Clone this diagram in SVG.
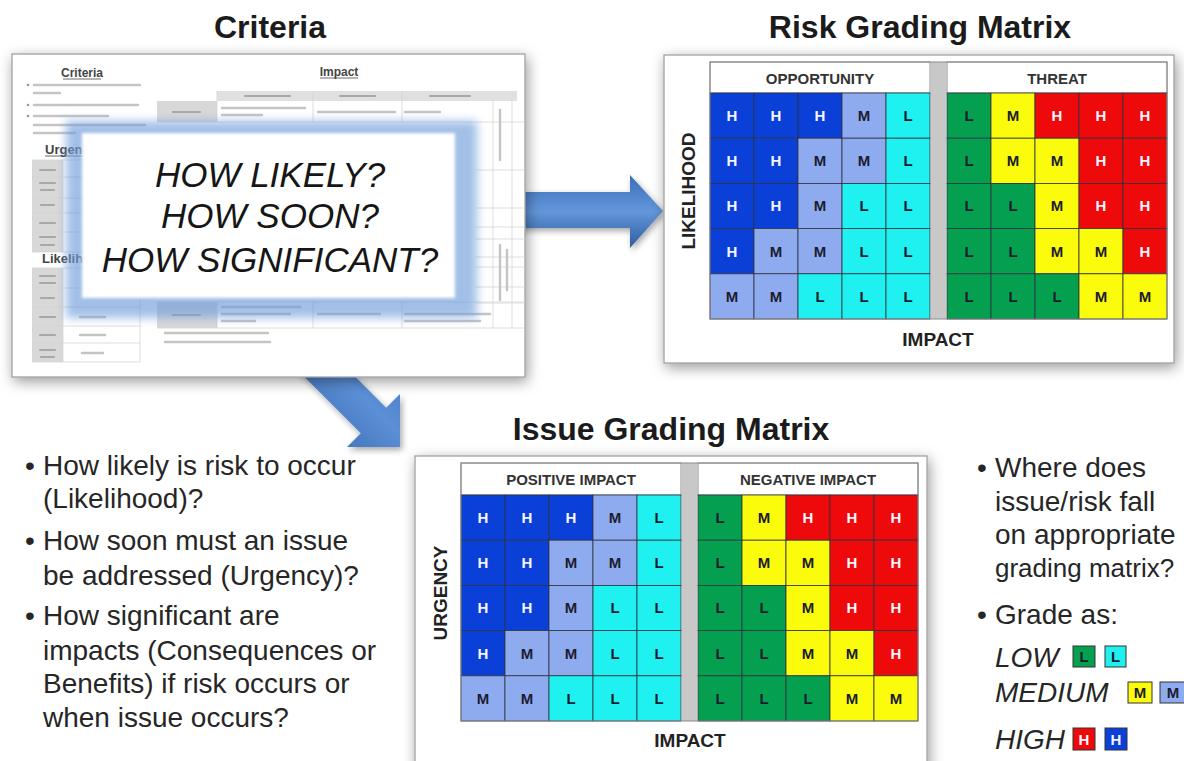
<svg xmlns="http://www.w3.org/2000/svg" width="1184" height="761" viewBox="0 0 1184 761">
<defs>
<style>
.title{font-family:"Liberation Sans",Arial,sans-serif;font-size:32px;font-weight:bold;fill:#1b1b1b;text-anchor:middle}
.body{font-family:"Liberation Sans",Arial,sans-serif;font-size:28px;fill:#262626}
.it{font-style:italic}
.q{font-family:"Liberation Sans",Arial,sans-serif;font-size:35px;font-style:italic;fill:#161616;text-anchor:middle}
.hdr{font-family:"Liberation Sans",Arial,sans-serif;font-size:15px;font-weight:bold;fill:#333;text-anchor:middle}
.ax{font-family:"Liberation Sans",Arial,sans-serif;font-size:19px;font-weight:bold;fill:#222;text-anchor:middle}
.panel{fill:#fff;stroke:#9a9a9a;stroke-width:1.2}
.c{stroke:#2d3340;stroke-width:0.8}
.H{fill:#0a40d8}.M{fill:#8fabef}.L{fill:#1ff0f0}.G{fill:#04a04f}.Y{fill:#fbfb0c}.R{fill:#ee0a0a}
.lt{font-family:"Liberation Sans",Arial,sans-serif;font-size:15px;font-weight:bold;text-anchor:middle;fill:#1c1c30}
.lw{fill:#f4f4ff}
.doc{font-family:"Liberation Sans",Arial,sans-serif;font-weight:bold;fill:#444}
.bar{stroke:#c4c4c4;stroke-width:2.4;stroke-linecap:round;fill:none}
.dk{stroke:#a8a8a8;stroke-width:2.2;stroke-linecap:round;fill:none}
.tl{stroke:#d4d4d4;stroke-width:0.8;fill:none}
.gc{fill:#d8d8d8}
</style>
<filter id="sh" x="-15%" y="-15%" width="130%" height="135%"><feDropShadow dx="2" dy="4" stdDeviation="7" flood-color="#000" flood-opacity="0.4"/></filter>
<filter id="ash" x="-20%" y="-20%" width="150%" height="150%"><feDropShadow dx="2" dy="3" stdDeviation="3" flood-color="#000" flood-opacity="0.35"/></filter>
<filter id="bl" x="-10%" y="-20%" width="120%" height="140%"><feGaussianBlur stdDeviation="5"/></filter>
<filter id="bl2" x="-5%" y="-5%" width="110%" height="110%"><feGaussianBlur stdDeviation="1.5"/></filter>
<linearGradient id="ga" x1="0" y1="0" x2="0" y2="1"><stop offset="0" stop-color="#3a6fb8"/><stop offset=".5" stop-color="#6396da"/><stop offset="1" stop-color="#2d5c9e"/></linearGradient>
<linearGradient id="gd" x1="0" y1="1" x2="1" y2="0"><stop offset="0" stop-color="#2d5c9e"/><stop offset=".55" stop-color="#5b8fd6"/><stop offset="1" stop-color="#3a6fb8"/></linearGradient>
<clipPath id="docclip"><rect x="12" y="54" width="513" height="323"/></clipPath>
</defs>
<rect width="1184" height="761" fill="#fff"/>

<text class="title" x="270" y="38">Criteria</text>
<text class="title" x="920" y="38">Risk Grading Matrix</text>
<text class="title" x="671" y="440">Issue Grading Matrix</text>

<g id="connectors">
<polygon points="518,192 630,192 630,175 663,211 630,248 630,228 518,228" fill="url(#ga)" filter="url(#ash)"/>
<polygon points="296.2,317.8 386.2,407.8 400,394 400,447 347,447 360.8,433.2 270.8,343.2" fill="url(#gd)" filter="url(#ash)"/>
</g>

<g id="criteria">
<rect class="panel" x="12" y="54" width="513" height="323" filter="url(#sh)"/>
<g clip-path="url(#docclip)">
<text class="doc" x="82" y="77" font-size="12" text-anchor="middle">Criteria</text>
<line x1="63" y1="79" x2="101" y2="79" stroke="#444" stroke-width="0.8"/>
<circle cx="28" cy="85" r="1.3" fill="#999"/><circle cx="28" cy="105" r="1.3" fill="#999"/><circle cx="28" cy="116" r="1.3" fill="#999"/>
<path class="bar" d="M34 85H140M34 93H60M34 105H138M34 116H108M34 125H145M34 133H75"/>
<text class="doc" x="45" y="154" font-size="13">Urgency</text>
<line x1="45" y1="156" x2="100" y2="156" stroke="#444" stroke-width="0.8"/>
<rect class="gc" x="32" y="160" width="31" height="92"/>
<path class="tl" d="M32 160H140V252H32M63 160V252M32 177H140M32 198H140M32 213H140M32 232H140"/>
<path class="dk" d="M40 170H55M40 183H55M41 190H54M41 205H54M40 223H55M40 237H55M41 245H54"/>
<text class="doc" x="42" y="263" font-size="13">Likelihood</text>
<rect class="gc" x="32" y="268" width="31" height="94"/>
<path class="tl" d="M32 268H140V362H32M63 268V362M32 288H140M32 307H140M32 326H140M32 343H140"/>
<path class="dk" d="M40 276H55M40 283H55M41 298H54M40 317H55M40 335H55M40 350H55M41 357H54"/>
<path class="bar" d="M80 317H105M80 335H105M82 353H103"/>
<text class="doc" x="339" y="76" font-size="12" text-anchor="middle">Impact</text>
<line x1="320" y1="78" x2="358" y2="78" stroke="#444" stroke-width="0.8"/>
<rect x="217" y="91" width="300" height="10" fill="#e0e0e0"/>
<rect class="gc" x="157" y="101" width="60" height="21"/>
<path class="tl" d="M217 91V122M313 91V122M402 91V122M157 122H525M493 100V328M512 100V328"/>
<path class="dk" d="M245 96H290M340 96H375M430 96H470M173 112H200"/>
<path class="bar" d="M222 108H305M222 115H262M318 112H395M405 112H440"/>
<path class="tl" d="M476 170H525M476 208H525M476 227H525M476 239H525M476 257H525M476 267H525M476 287H525M476 303H525"/>
<path class="bar" d="M500 110V160M500 245V300M507 250V290"/>
<rect class="gc" x="157" y="302" width="60" height="26"/>
<path class="tl" d="M157 302H525M157 328H525M217 302V328M313 302V328M402 302V328"/>
<path class="dk" d="M173 315H200"/>
<path class="bar" d="M222 307H300M222 314H290M222 321H255M318 314H380M405 314H490M405 321H480"/>
<path class="bar" d="M165 333H268M165 342H270"/>
</g>
<rect x="66" y="121" width="411" height="197" fill="#6f9ddb" opacity="0.65" filter="url(#bl)"/>
<rect x="82" y="133" width="373" height="165" fill="#fff" filter="url(#bl2)"/>
<text class="q" x="270" y="187">HOW LIKELY?</text>
<text class="q" x="270" y="228">HOW SOON?</text>
<text class="q" x="270" y="272">HOW SIGNIFICANT?</text>
</g>

<g id="risk-matrix">
<rect class="panel" x="664" y="55" width="510" height="308" filter="url(#sh)"/>
<g transform="translate(710,93)">
<rect x="221" y="-31" width="15" height="257" fill="#c8c8c8"/>
<rect x="0" y="-31" width="220" height="31" fill="#fff" stroke="#8a8a8a"/>
<rect x="237" y="-31" width="220" height="31" fill="#fff" stroke="#8a8a8a"/>
<text class="hdr" x="110" y="-9">OPPORTUNITY</text>
<text class="hdr" x="347" y="-9">THREAT</text>
<rect class="c H" x="0" y="0" width="44" height="45.2"/><rect class="c H" x="44" y="0" width="44" height="45.2"/><rect class="c H" x="88" y="0" width="44" height="45.2"/><rect class="c M" x="132" y="0" width="44" height="45.2"/><rect class="c L" x="176" y="0" width="44" height="45.2"/>
<rect class="c H" x="0" y="45.2" width="44" height="45.2"/><rect class="c H" x="44" y="45.2" width="44" height="45.2"/><rect class="c M" x="88" y="45.2" width="44" height="45.2"/><rect class="c M" x="132" y="45.2" width="44" height="45.2"/><rect class="c L" x="176" y="45.2" width="44" height="45.2"/>
<rect class="c H" x="0" y="90.4" width="44" height="45.2"/><rect class="c H" x="44" y="90.4" width="44" height="45.2"/><rect class="c M" x="88" y="90.4" width="44" height="45.2"/><rect class="c L" x="132" y="90.4" width="44" height="45.2"/><rect class="c L" x="176" y="90.4" width="44" height="45.2"/>
<rect class="c H" x="0" y="135.6" width="44" height="45.2"/><rect class="c M" x="44" y="135.6" width="44" height="45.2"/><rect class="c M" x="88" y="135.6" width="44" height="45.2"/><rect class="c L" x="132" y="135.6" width="44" height="45.2"/><rect class="c L" x="176" y="135.6" width="44" height="45.2"/>
<rect class="c M" x="0" y="180.8" width="44" height="45.2"/><rect class="c M" x="44" y="180.8" width="44" height="45.2"/><rect class="c L" x="88" y="180.8" width="44" height="45.2"/><rect class="c L" x="132" y="180.8" width="44" height="45.2"/><rect class="c L" x="176" y="180.8" width="44" height="45.2"/>
<rect class="c G" x="237" y="0" width="44" height="45.2"/><rect class="c Y" x="281" y="0" width="44" height="45.2"/><rect class="c R" x="325" y="0" width="44" height="45.2"/><rect class="c R" x="369" y="0" width="44" height="45.2"/><rect class="c R" x="413" y="0" width="44" height="45.2"/>
<rect class="c G" x="237" y="45.2" width="44" height="45.2"/><rect class="c Y" x="281" y="45.2" width="44" height="45.2"/><rect class="c Y" x="325" y="45.2" width="44" height="45.2"/><rect class="c R" x="369" y="45.2" width="44" height="45.2"/><rect class="c R" x="413" y="45.2" width="44" height="45.2"/>
<rect class="c G" x="237" y="90.4" width="44" height="45.2"/><rect class="c G" x="281" y="90.4" width="44" height="45.2"/><rect class="c Y" x="325" y="90.4" width="44" height="45.2"/><rect class="c R" x="369" y="90.4" width="44" height="45.2"/><rect class="c R" x="413" y="90.4" width="44" height="45.2"/>
<rect class="c G" x="237" y="135.6" width="44" height="45.2"/><rect class="c G" x="281" y="135.6" width="44" height="45.2"/><rect class="c Y" x="325" y="135.6" width="44" height="45.2"/><rect class="c Y" x="369" y="135.6" width="44" height="45.2"/><rect class="c R" x="413" y="135.6" width="44" height="45.2"/>
<rect class="c G" x="237" y="180.8" width="44" height="45.2"/><rect class="c G" x="281" y="180.8" width="44" height="45.2"/><rect class="c G" x="325" y="180.8" width="44" height="45.2"/><rect class="c Y" x="369" y="180.8" width="44" height="45.2"/><rect class="c Y" x="413" y="180.8" width="44" height="45.2"/>
<rect x="0" y="-31" width="457" height="257" fill="none" stroke="#8a8a8a"/>
<text class="lt lw" x="22" y="28">H</text><text class="lt lw" x="66" y="28">H</text><text class="lt lw" x="110" y="28">H</text><text class="lt" x="154" y="28">M</text><text class="lt" x="198" y="28">L</text>
<text class="lt lw" x="22" y="73.2">H</text><text class="lt lw" x="66" y="73.2">H</text><text class="lt" x="110" y="73.2">M</text><text class="lt" x="154" y="73.2">M</text><text class="lt" x="198" y="73.2">L</text>
<text class="lt lw" x="22" y="118.4">H</text><text class="lt lw" x="66" y="118.4">H</text><text class="lt" x="110" y="118.4">M</text><text class="lt" x="154" y="118.4">L</text><text class="lt" x="198" y="118.4">L</text>
<text class="lt lw" x="22" y="163.6">H</text><text class="lt" x="66" y="163.6">M</text><text class="lt" x="110" y="163.6">M</text><text class="lt" x="154" y="163.6">L</text><text class="lt" x="198" y="163.6">L</text>
<text class="lt" x="22" y="208.8">M</text><text class="lt" x="66" y="208.8">M</text><text class="lt" x="110" y="208.8">L</text><text class="lt" x="154" y="208.8">L</text><text class="lt" x="198" y="208.8">L</text>
<text class="lt" x="259" y="28">L</text><text class="lt" x="303" y="28">M</text><text class="lt lw" x="347" y="28">H</text><text class="lt lw" x="391" y="28">H</text><text class="lt lw" x="435" y="28">H</text>
<text class="lt" x="259" y="73.2">L</text><text class="lt" x="303" y="73.2">M</text><text class="lt" x="347" y="73.2">M</text><text class="lt lw" x="391" y="73.2">H</text><text class="lt lw" x="435" y="73.2">H</text>
<text class="lt" x="259" y="118.4">L</text><text class="lt" x="303" y="118.4">L</text><text class="lt" x="347" y="118.4">M</text><text class="lt lw" x="391" y="118.4">H</text><text class="lt lw" x="435" y="118.4">H</text>
<text class="lt" x="259" y="163.6">L</text><text class="lt" x="303" y="163.6">L</text><text class="lt" x="347" y="163.6">M</text><text class="lt" x="391" y="163.6">M</text><text class="lt lw" x="435" y="163.6">H</text>
<text class="lt" x="259" y="208.8">L</text><text class="lt" x="303" y="208.8">L</text><text class="lt" x="347" y="208.8">L</text><text class="lt" x="391" y="208.8">M</text><text class="lt" x="435" y="208.8">M</text>
</g>
<text class="ax" transform="translate(695,191) rotate(-90)" font-size="20">LIKELIHOOD</text>
<text class="ax" x="938" y="346">IMPACT</text>
</g>

<g id="issue-matrix">
<rect class="panel" x="415" y="456" width="512" height="330" filter="url(#sh)"/>
<g transform="translate(461,495)">
<rect x="221" y="-32" width="15" height="258" fill="#c8c8c8"/>
<rect x="0" y="-32" width="220" height="32" fill="#fff" stroke="#8a8a8a"/>
<rect x="237" y="-32" width="220" height="32" fill="#fff" stroke="#8a8a8a"/>
<text class="hdr" x="110" y="-10">POSITIVE IMPACT</text>
<text class="hdr" x="347" y="-10">NEGATIVE IMPACT</text>
<rect class="c H" x="0" y="0" width="44" height="45.2"/><rect class="c H" x="44" y="0" width="44" height="45.2"/><rect class="c H" x="88" y="0" width="44" height="45.2"/><rect class="c M" x="132" y="0" width="44" height="45.2"/><rect class="c L" x="176" y="0" width="44" height="45.2"/>
<rect class="c H" x="0" y="45.2" width="44" height="45.2"/><rect class="c H" x="44" y="45.2" width="44" height="45.2"/><rect class="c M" x="88" y="45.2" width="44" height="45.2"/><rect class="c M" x="132" y="45.2" width="44" height="45.2"/><rect class="c L" x="176" y="45.2" width="44" height="45.2"/>
<rect class="c H" x="0" y="90.4" width="44" height="45.2"/><rect class="c H" x="44" y="90.4" width="44" height="45.2"/><rect class="c M" x="88" y="90.4" width="44" height="45.2"/><rect class="c L" x="132" y="90.4" width="44" height="45.2"/><rect class="c L" x="176" y="90.4" width="44" height="45.2"/>
<rect class="c H" x="0" y="135.6" width="44" height="45.2"/><rect class="c M" x="44" y="135.6" width="44" height="45.2"/><rect class="c M" x="88" y="135.6" width="44" height="45.2"/><rect class="c L" x="132" y="135.6" width="44" height="45.2"/><rect class="c L" x="176" y="135.6" width="44" height="45.2"/>
<rect class="c M" x="0" y="180.8" width="44" height="45.2"/><rect class="c M" x="44" y="180.8" width="44" height="45.2"/><rect class="c L" x="88" y="180.8" width="44" height="45.2"/><rect class="c L" x="132" y="180.8" width="44" height="45.2"/><rect class="c L" x="176" y="180.8" width="44" height="45.2"/>
<rect class="c G" x="237" y="0" width="44" height="45.2"/><rect class="c Y" x="281" y="0" width="44" height="45.2"/><rect class="c R" x="325" y="0" width="44" height="45.2"/><rect class="c R" x="369" y="0" width="44" height="45.2"/><rect class="c R" x="413" y="0" width="44" height="45.2"/>
<rect class="c G" x="237" y="45.2" width="44" height="45.2"/><rect class="c Y" x="281" y="45.2" width="44" height="45.2"/><rect class="c Y" x="325" y="45.2" width="44" height="45.2"/><rect class="c R" x="369" y="45.2" width="44" height="45.2"/><rect class="c R" x="413" y="45.2" width="44" height="45.2"/>
<rect class="c G" x="237" y="90.4" width="44" height="45.2"/><rect class="c G" x="281" y="90.4" width="44" height="45.2"/><rect class="c Y" x="325" y="90.4" width="44" height="45.2"/><rect class="c R" x="369" y="90.4" width="44" height="45.2"/><rect class="c R" x="413" y="90.4" width="44" height="45.2"/>
<rect class="c G" x="237" y="135.6" width="44" height="45.2"/><rect class="c G" x="281" y="135.6" width="44" height="45.2"/><rect class="c Y" x="325" y="135.6" width="44" height="45.2"/><rect class="c Y" x="369" y="135.6" width="44" height="45.2"/><rect class="c R" x="413" y="135.6" width="44" height="45.2"/>
<rect class="c G" x="237" y="180.8" width="44" height="45.2"/><rect class="c G" x="281" y="180.8" width="44" height="45.2"/><rect class="c G" x="325" y="180.8" width="44" height="45.2"/><rect class="c Y" x="369" y="180.8" width="44" height="45.2"/><rect class="c Y" x="413" y="180.8" width="44" height="45.2"/>
<rect x="0" y="-32" width="457" height="258" fill="none" stroke="#8a8a8a"/>
<text class="lt lw" x="22" y="28">H</text><text class="lt lw" x="66" y="28">H</text><text class="lt lw" x="110" y="28">H</text><text class="lt" x="154" y="28">M</text><text class="lt" x="198" y="28">L</text>
<text class="lt lw" x="22" y="73.2">H</text><text class="lt lw" x="66" y="73.2">H</text><text class="lt" x="110" y="73.2">M</text><text class="lt" x="154" y="73.2">M</text><text class="lt" x="198" y="73.2">L</text>
<text class="lt lw" x="22" y="118.4">H</text><text class="lt lw" x="66" y="118.4">H</text><text class="lt" x="110" y="118.4">M</text><text class="lt" x="154" y="118.4">L</text><text class="lt" x="198" y="118.4">L</text>
<text class="lt lw" x="22" y="163.6">H</text><text class="lt" x="66" y="163.6">M</text><text class="lt" x="110" y="163.6">M</text><text class="lt" x="154" y="163.6">L</text><text class="lt" x="198" y="163.6">L</text>
<text class="lt" x="22" y="208.8">M</text><text class="lt" x="66" y="208.8">M</text><text class="lt" x="110" y="208.8">L</text><text class="lt" x="154" y="208.8">L</text><text class="lt" x="198" y="208.8">L</text>
<text class="lt" x="259" y="28">L</text><text class="lt" x="303" y="28">M</text><text class="lt lw" x="347" y="28">H</text><text class="lt lw" x="391" y="28">H</text><text class="lt lw" x="435" y="28">H</text>
<text class="lt" x="259" y="73.2">L</text><text class="lt" x="303" y="73.2">M</text><text class="lt" x="347" y="73.2">M</text><text class="lt lw" x="391" y="73.2">H</text><text class="lt lw" x="435" y="73.2">H</text>
<text class="lt" x="259" y="118.4">L</text><text class="lt" x="303" y="118.4">L</text><text class="lt" x="347" y="118.4">M</text><text class="lt lw" x="391" y="118.4">H</text><text class="lt lw" x="435" y="118.4">H</text>
<text class="lt" x="259" y="163.6">L</text><text class="lt" x="303" y="163.6">L</text><text class="lt" x="347" y="163.6">M</text><text class="lt" x="391" y="163.6">M</text><text class="lt lw" x="435" y="163.6">H</text>
<text class="lt" x="259" y="208.8">L</text><text class="lt" x="303" y="208.8">L</text><text class="lt" x="347" y="208.8">L</text><text class="lt" x="391" y="208.8">M</text><text class="lt" x="435" y="208.8">M</text>
</g>
<text class="ax" transform="translate(447,593) rotate(-90)" font-size="20">URGENCY</text>
<text class="ax" x="690" y="747">IMPACT</text>
</g>

<g id="left-text" class="body">
<text x="25" y="475">•</text><text x="43" y="475">How likely is risk to occur</text>
<text x="43" y="508">(Likelihood)?</text>
<text x="25" y="550">•</text><text x="43" y="550">How soon must an issue</text>
<text x="43" y="585">be addressed (Urgency)?</text>
<text x="25" y="625">•</text><text x="43" y="625">How significant are</text>
<text x="43" y="660">impacts (Consequences or</text>
<text x="43" y="693">Benefits) if risk occurs or</text>
<text x="43" y="727">when issue occurs?</text>
</g>

<g id="right-text" class="body">
<text x="977" y="477">•</text><text x="995" y="477">Where does</text>
<text x="995" y="511">issue/risk fall</text>
<text x="995" y="544">on appropriate</text>
<text x="995" y="577" font-size="26">grading matrix?</text>
<text x="977" y="624">•</text><text x="995" y="624">Grade as:</text>
<text class="it" x="995" y="667">LOW</text>
<text class="it" x="995" y="702">MEDIUM</text>
<text class="it" x="995" y="749">HIGH</text>
</g>

<g id="legend">
<rect class="G" x="1073" y="646" width="22" height="21" stroke="#333" stroke-width="1"/><text class="lt" x="1084" y="662">L</text>
<rect class="L" x="1105" y="646" width="21" height="21" stroke="#333" stroke-width="1"/><text class="lt" x="1115.5" y="662">L</text>
<rect class="Y" x="1128" y="682" width="24" height="21" stroke="#333" stroke-width="1"/><text class="lt" x="1140" y="698">M</text>
<rect class="M" x="1160" y="682" width="26" height="21" stroke="#333" stroke-width="1"/><text class="lt" x="1173" y="698">M</text>
<rect class="R" x="1073" y="728" width="22" height="22" stroke="#333" stroke-width="1"/><text class="lt lw" x="1084" y="744.5">H</text>
<rect class="H" x="1105" y="728" width="22" height="22" stroke="#333" stroke-width="1"/><text class="lt lw" x="1116" y="744.5">H</text>
</g>
</svg>
